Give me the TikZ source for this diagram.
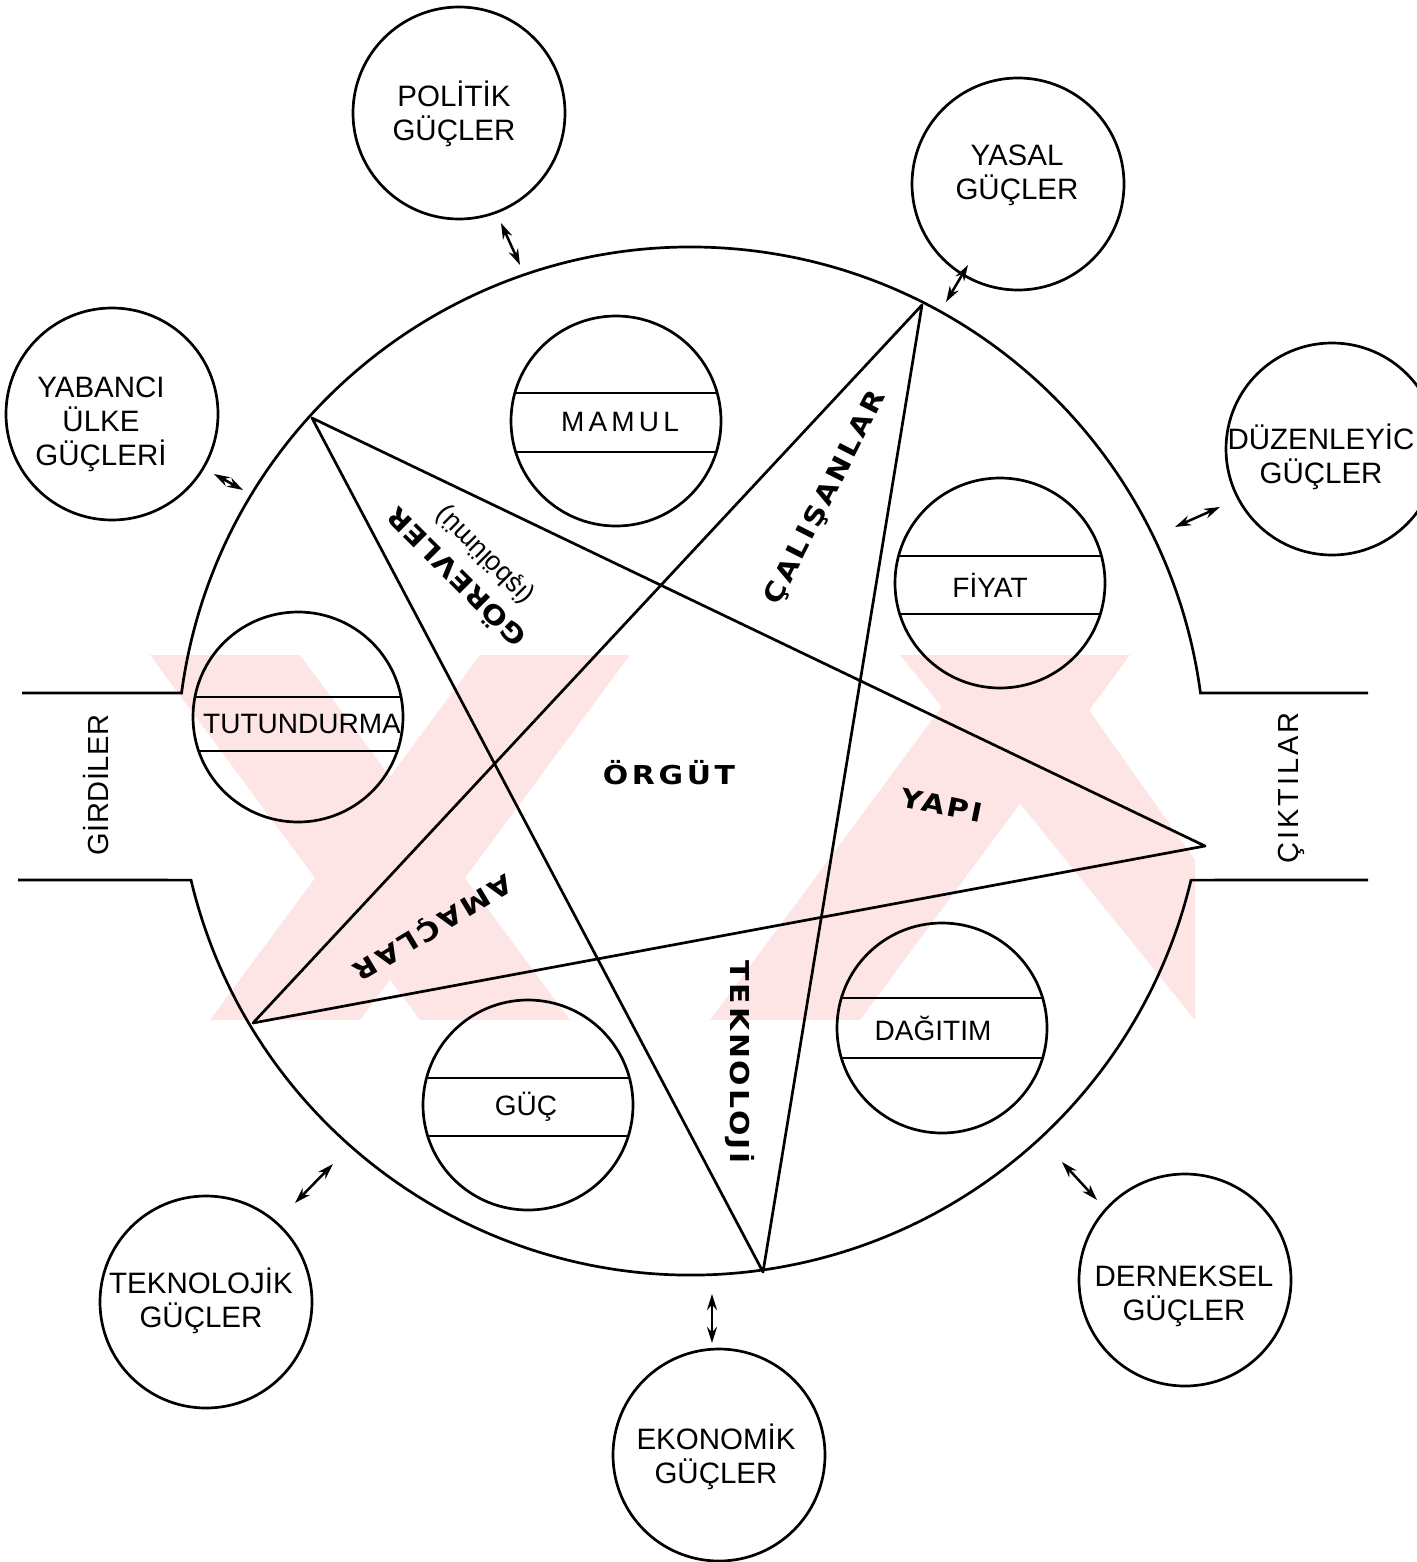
\documentclass[tikz,border=0pt]{standalone}
\usepackage{fontspec}
\setmainfont{Liberation Sans}
\newfontfamily\heavyfont{DejaVu Sans Bold}[FakeStretch=1.15]
\usetikzlibrary{calc,arrows.meta}
\definecolor{wm}{RGB}{253,229,229}
\newcommand\bandcirc[5]{% name, cx, cy, upper chord y, lower chord y
  \node[innerc] (#1) at (#2,-#3) {};
  \begin{scope}
    \clip (#2,-#3) circle[radius=105pt];
    \draw[lw] (#2-120,-#4) -- (#2+120,-#4);
    \draw[lw] (#2-120,-#5) -- (#2+120,-#5);
  \end{scope}}
\begin{document}
\begin{tikzpicture}[x=1pt,y=1pt,
  lw/.style={line width=2.7pt},
  outerc/.style={circle,draw,line width=2.7pt,minimum size=212pt,inner sep=0pt},
  innerc/.style={circle,draw,line width=2.7pt,minimum size=210pt,inner sep=0pt},
  olbl/.style={align=center,inner sep=0pt,font=\fontsize{29.5}{34}\selectfont},
  blbl/.style={inner sep=0pt,font=\fontsize{28}{30}\selectfont},
  bold/.style={inner sep=0pt,font=\heavyfont\fontsize{26}{30}\selectfont\addfontfeature{LetterSpace=#1}},
  flow/.style={inner sep=0pt,rotate=90,font=\fontsize{29}{30}\selectfont\addfontfeature{LetterSpace=#1}},
  dbl/.style={{Stealth[length=16pt,width=10pt]}-{Stealth[length=16pt,width=10pt]},line width=2.5pt},
]
\useasboundingbox (0,0) rectangle (1416,-1562);

% pale background emblem
\fill[wm] (150,-655) -- (300,-655) -- (570,-1020) -- (420,-1020) -- cycle;
\fill[wm] (210,-1020) -- (360,-1020) -- (630,-655) -- (480,-655) -- cycle;
\fill[wm] (900,-655) -- (1050,-655) -- (1195,-860) -- (1195,-1020) -- cycle;
\fill[wm] (710,-1020) -- (860,-1020) -- (1130,-655) -- (980,-655) -- cycle;

% main boundary with input and output openings
\coordinate (C) at (691,-761);
\draw[lw] (22,-693) -- ($(C)+(172.4:514pt)$) arc[start angle=172.4,end angle=7.6,radius=514pt] -- (1368,-693);
\draw[lw] (18,-880) -- ($(C)+(193.4:514pt)$) arc[start angle=193.4,end angle=346.6,radius=514pt] -- (1368,-880);

% pentagram
\coordinate (pA) at (922,-305);
\coordinate (pB) at (312,-418);
\coordinate (pC) at (1205,-846);
\coordinate (pD) at (253,-1023);
\coordinate (pE) at (763,-1272);
\draw[lw,line join=round] (pB) -- (pC) -- (pD) -- (pA) -- (pE) -- cycle;

% marketing mix circles
\bandcirc{mamul}{616}{421}{393}{452}
\bandcirc{fiyat}{1000}{583}{556}{614}
\bandcirc{tut}{298}{717}{697}{751}
\bandcirc{dag}{942}{1028}{998}{1058}
\bandcirc{guc}{528}{1105}{1078}{1136}
\node[blbl,font=\fontsize{28}{30}\selectfont\addfontfeature{LetterSpace=15}] (mamul-t) at (620,-422) {MAMUL};
\node[blbl] (fiyat-t) at (990,-585) {FİYAT};
\node[blbl] (tut-t) at (302,-724) {TUTUNDURMA};
\node[blbl] (dag-t) at (933,-1028) {DAĞITIM};
\node[blbl] (guc-t) at (526,-1107) {GÜÇ};

% environmental forces
\node[outerc] (pol) at (459,-113) {};
\node[outerc] (yas) at (1018,-184) {};
\node[outerc] (yab) at (112,-414) {};
\node[outerc] (duz) at (1332,-449) {};
\node[outerc] (tek) at (206,-1302) {};
\node[outerc] (eko) at (719,-1455) {};
\node[outerc] (der) at (1185,-1280) {};
\node[olbl] (pol-t) at (454,-114) {POLİTİK\\GÜÇLER};
\node[olbl] (yas-t) at (1017,-175) {YASAL\\GÜÇLER};
\node[olbl] (yab-t) at (101,-424) {YABANCI\\ÜLKE\\GÜÇLERİ};
\node[olbl] (duz-t) at (1321,-457) {DÜZENLEYİC\\GÜÇLER};
\node[olbl] (tek-t) at (201,-1301) {TEKNOLOJİK\\GÜÇLER};
\node[olbl] (eko-t) at (716,-1457) {EKONOMİK\\GÜÇLER};
\node[olbl] (der-t) at (1184,-1296) {DERNEKSEL\\GÜÇLER};

% interaction arrows
\coordinate (pol-a) at (501,-223);  \coordinate (pol-b) at (520,-265);
\coordinate (yas-a) at (968,-265);  \coordinate (yas-b) at (946,-302);
\coordinate (yab-a) at (214,-474);  \coordinate (yab-b) at (243,-490);
\coordinate (duz-a) at (1220,-507); \coordinate (duz-b) at (1175,-527);
\coordinate (tek-a) at (333,-1164); \coordinate (tek-b) at (295,-1203);
\coordinate (eko-a) at (712,-1294); \coordinate (eko-b) at (712,-1343);
\coordinate (der-a) at (1062,-1162);\coordinate (der-b) at (1097,-1200);
\foreach \f in {pol,yas,yab,duz,tek,eko,der}
  \draw[dbl] (\f-a) -- (\f-b);

% organisation labels
\node[bold=14] (org) at (669,-773) {ÖRGÜT};
\node[bold=9,rotate=-11.5] (yapi) at (942,-805) {YAPI};
\node[bold=11,rotate=63] (cal) at (826,-498) {ÇALIŞANLAR};
\node[bold=3,rotate=135] (gor) at (455,-579) {GÖREVLER};
\node[inner sep=0pt,rotate=135,font=\fontsize{27}{29}\selectfont] (isb) at (485,-555) {(işbölümü)};
\node[bold=11,rotate=211] (ama) at (432,-926) {AMAÇLAR};
\node[bold=11,rotate=-90] (tekn) at (740,-1062) {TEKNOLOJİ};

% inputs and outputs
\node[flow=2] (gir) at (96,-785) {GİRDİLER};
\node[flow=10] (cik) at (1291,-788) {ÇIKTILAR};
\end{tikzpicture}
\end{document}
